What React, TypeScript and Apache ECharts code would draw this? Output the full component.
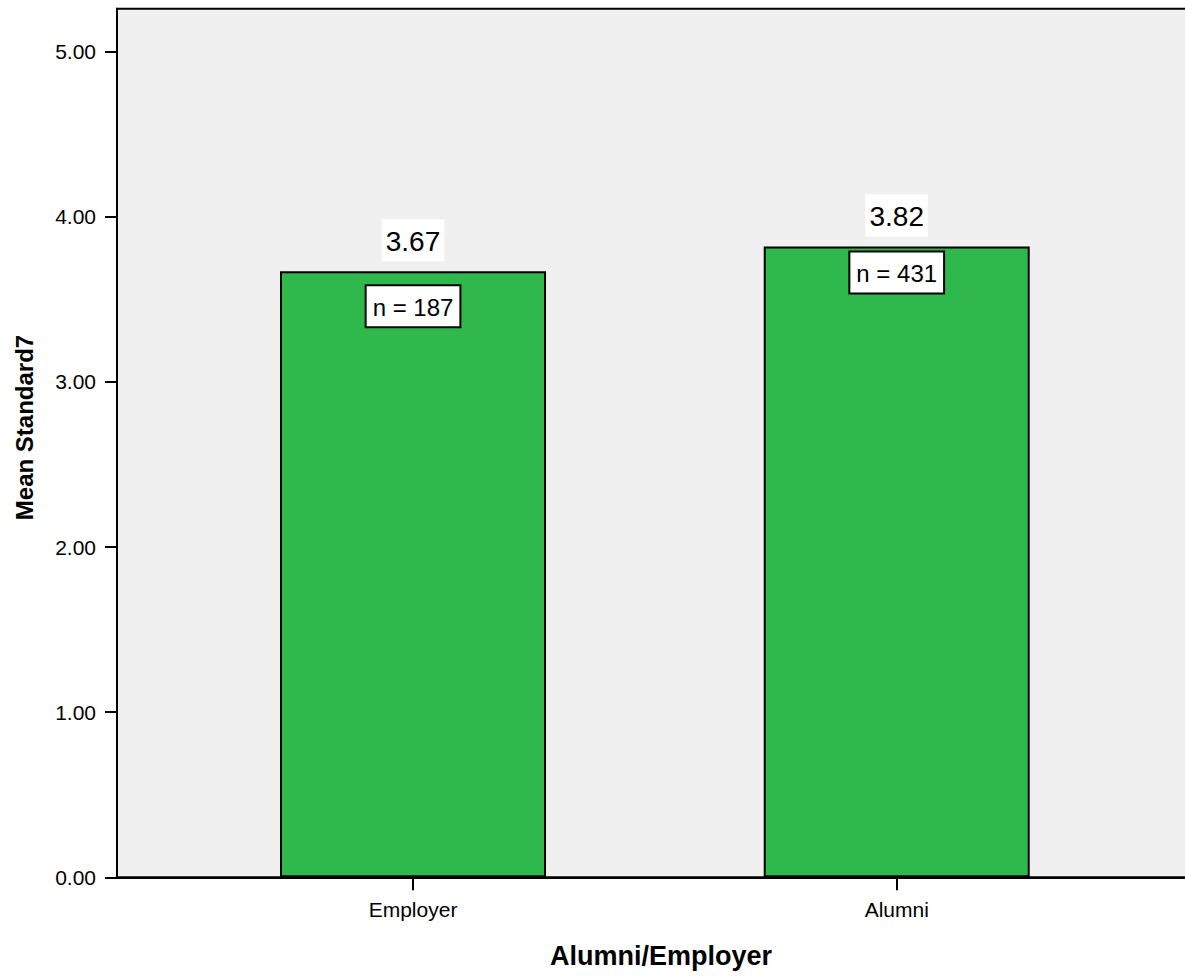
import React, { useEffect, useRef } from "react";
import * as echarts from "echarts";

const categories = ["Employer", "Alumni"];
const means = [3.67, 3.82];
const counts = [187, 431];
const yTicks = [0, 1, 2, 3, 4, 5];
const xPositions = [0, 1];

const FONT = "'Liberation Sans', Arial, Helvetica, sans-serif";
const nLabelDistance = [15, 6];

export default function App() {
  const ref = useRef<HTMLDivElement>(null);
  useEffect(() => {
    if (!ref.current) return;
    const chart = echarts.init(ref.current, undefined, { renderer: "svg" });
    const xMin = -0.612;
    const xMax = 1.627;
    chart.setOption({
      animation: false,
      textStyle: { fontFamily: FONT },
      grid: {
        left: 117,
        right: 0,
        top: 8.7,
        bottom: 98.7,
        show: true,
        backgroundColor: "#f0f0f0",
        borderColor: "#000",
        borderWidth: 2,
      },
      xAxis: {
        type: "value",
        min: xMin,
        max: xMax,
        splitLine: { show: false },
        axisLine: { show: true, onZero: false, lineStyle: { color: "#000", width: 2 } },
        axisTick: {
          show: true,
          customValues: xPositions,
          length: 13,
          lineStyle: { color: "#000", width: 2 },
        },
        axisLabel: {
          customValues: xPositions,
          formatter: (v: number) => categories[Math.round(v)] ?? "",
          color: "#000",
          fontSize: 21,
          fontFamily: FONT,
          margin: 22,
        },
      },
      yAxis: {
        type: "value",
        min: 0,
        max: 5.26,
        splitLine: { show: false },
        axisLine: { show: true, onZero: false, lineStyle: { color: "#000", width: 2 } },
        axisTick: {
          show: true,
          customValues: yTicks,
          length: 12,
          lineStyle: { color: "#000", width: 2 },
        },
        axisLabel: {
          customValues: yTicks,
          formatter: (v: number) => v.toFixed(2),
          color: "#000",
          fontSize: 21,
          fontFamily: FONT,
          margin: 21,
        },
      },
      series: [
        {
          type: "bar",
          barWidth: 266,
          barGap: "-100%",
          data: means.map((m, i) => ({
            value: [xPositions[i], m],
            label: { distance: nLabelDistance[i] },
          })),
          itemStyle: { color: "#2fb84b", borderColor: "#000", borderWidth: 2 },
          label: {
            show: true,
            position: "insideTop",
            formatter: (p: any) => "n = " + counts[p.dataIndex],
            color: "#000",
            fontSize: 24,
            fontFamily: FONT,
            backgroundColor: "#fff",
            borderColor: "#000",
            borderWidth: 2,
            padding: [7, 6, 5, 6],
            lineHeight: 28,
          },
          z: 2,
        },
        {
          type: "bar",
          barWidth: 266,
          barGap: "-100%",
          data: means.map((m, i) => [xPositions[i], m]),
          itemStyle: { color: "transparent", borderWidth: 0 },
          label: {
            show: true,
            position: "top",
            distance: 10,
            formatter: (p: any) => p.value[1].toFixed(2),
            color: "#000",
            fontSize: 28,
            fontFamily: FONT,
            backgroundColor: "#fff",
            padding: [7, 4, 4, 4],
            lineHeight: 31,
          },
          z: 3,
        },
      ],
      graphic: [
        {
          type: "text",
          x: 24,
          y: 427.5,
          rotation: Math.PI / 2,
          style: {
            text: "Mean Standard7",
            fontSize: 24,
            fontWeight: "bold",
            fontFamily: FONT,
            fill: "#000",
            align: "center",
            verticalAlign: "middle",
          },
        },
        {
          type: "text",
          x: 661,
          y: 956,
          style: {
            text: "Alumni/Employer",
            fontSize: 27,
            fontWeight: "bold",
            fontFamily: FONT,
            fill: "#000",
            align: "center",
            verticalAlign: "middle",
          },
        },
      ],
    });
    return () => chart.dispose();
  }, []);
  return (
    <div
      ref={ref}
      style={{ position: "fixed", left: 0, top: 0, width: 1200, height: 976, background: "#fff" }}
    />
  );
}
